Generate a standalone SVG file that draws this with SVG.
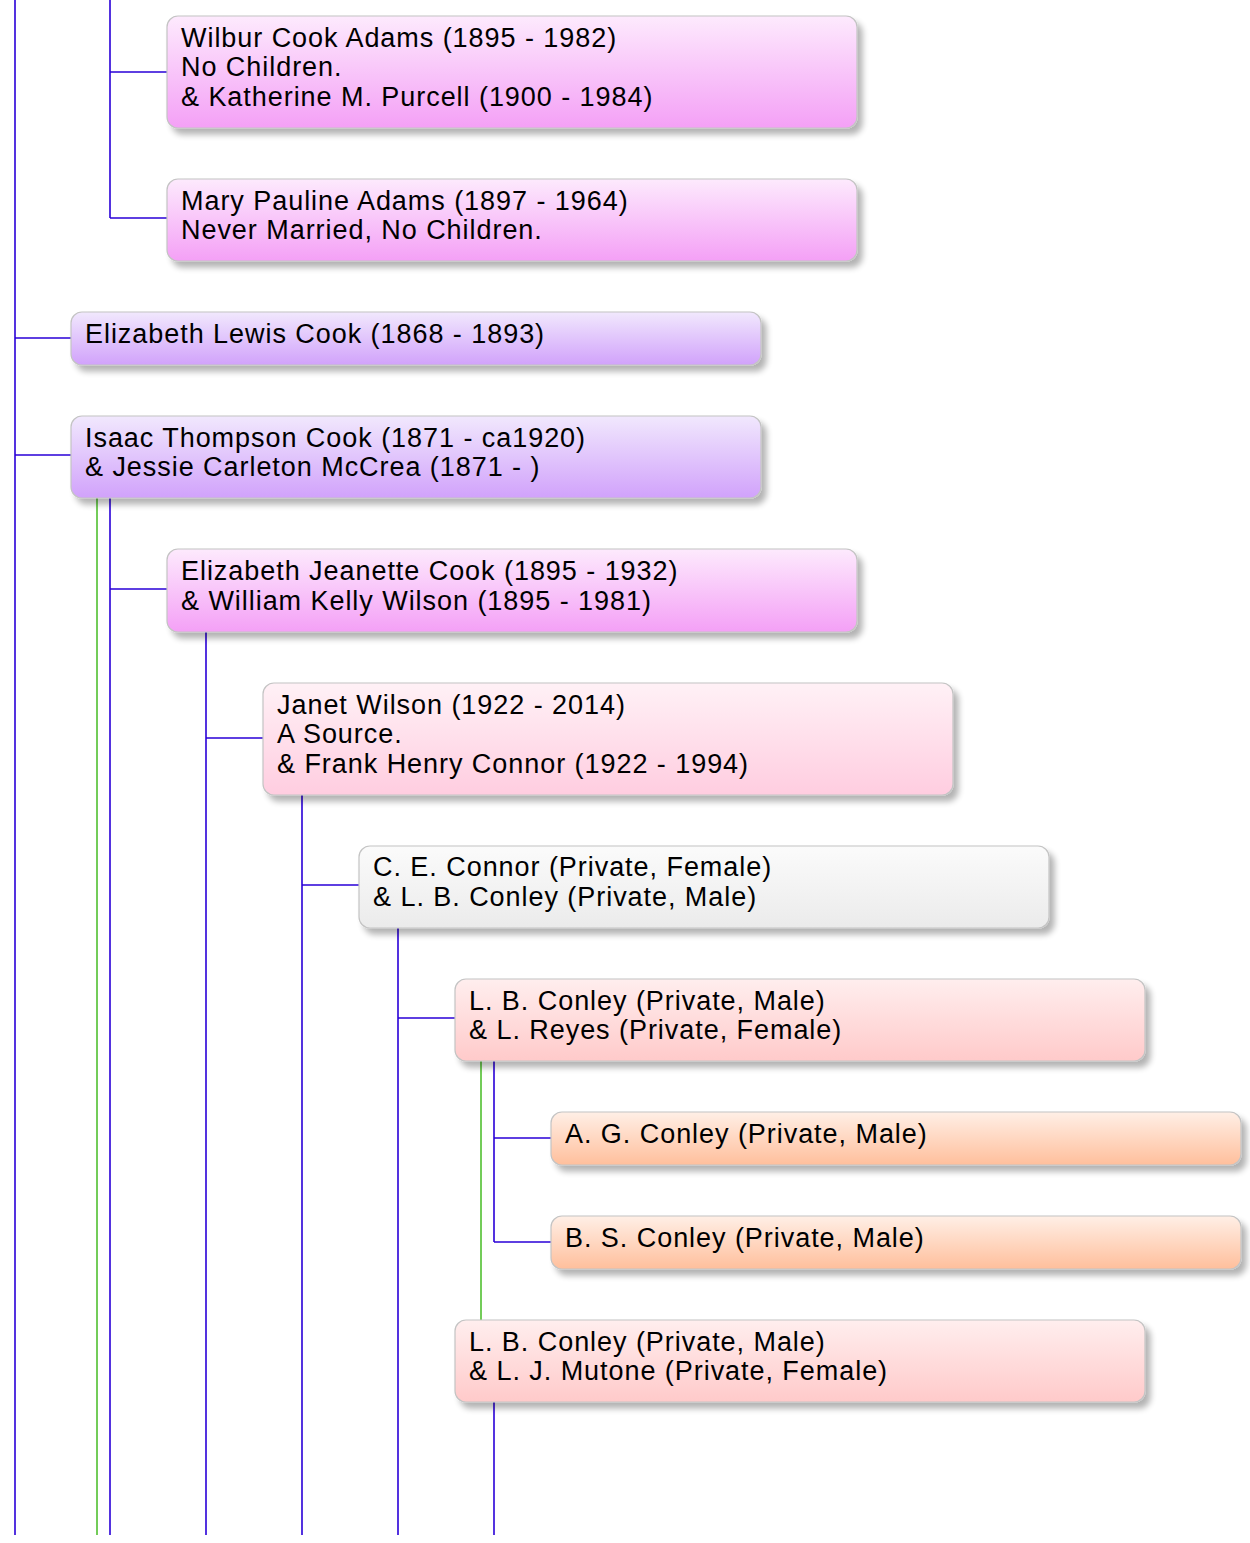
<svg xmlns="http://www.w3.org/2000/svg" width="1250" height="1543" viewBox="0 0 1250 1543">
<defs>
<linearGradient id="gMag" x1="0" y1="0" x2="0" y2="1"><stop offset="0" stop-color="#fdeafd"/><stop offset="1" stop-color="#f4a0f6"/></linearGradient>
<linearGradient id="gPur" x1="0" y1="0" x2="0" y2="1"><stop offset="0" stop-color="#f1e8fd"/><stop offset="1" stop-color="#d1a2fb"/></linearGradient>
<linearGradient id="gPink" x1="0" y1="0" x2="0" y2="1"><stop offset="0" stop-color="#fff1f6"/><stop offset="1" stop-color="#ffcde0"/></linearGradient>
<linearGradient id="gGrey" x1="0" y1="0" x2="0" y2="1"><stop offset="0" stop-color="#fbfbfb"/><stop offset="1" stop-color="#ebebeb"/></linearGradient>
<linearGradient id="gRed" x1="0" y1="0" x2="0" y2="1"><stop offset="0" stop-color="#ffeeee"/><stop offset="1" stop-color="#ffcaca"/></linearGradient>
<linearGradient id="gOr" x1="0" y1="0" x2="0" y2="1"><stop offset="0" stop-color="#ffefe6"/><stop offset="1" stop-color="#ffbf9c"/></linearGradient>
<filter id="sh" x="-5%" y="-20%" width="115%" height="160%"><feGaussianBlur in="SourceAlpha" stdDeviation="3"/><feOffset dx="5" dy="6"/><feComponentTransfer><feFuncA type="linear" slope="0.3"/></feComponentTransfer><feMerge><feMergeNode/><feMergeNode in="SourceGraphic"/></feMerge></filter>
</defs>
<style>
.box{stroke:#c4c4c4;stroke-width:1.2;filter:url(#sh)}
.t{font-family:"Liberation Sans",Arial,sans-serif;font-size:27px;letter-spacing:0.95px;fill:#000}
.b{stroke:#2a00d8;stroke-width:1.6;fill:none}
.g{stroke:#44bb22;stroke-width:1.5;fill:none}
</style>
<rect width="1250" height="1543" fill="#fff"/>
<g id="connectors">
<path class="b" d="M15 0V1535M15 338H71M15 455H71"/>
<path class="b" d="M110 0V218M110 72H167M110 218H167"/>
<path class="g" d="M97 498V1535"/>
<path class="b" d="M110 498V1535M110 589H167"/>
<path class="b" d="M206 632V1535M206 738H263"/>
<path class="b" d="M302 795V1535M302 885H359"/>
<path class="b" d="M398 928V1535M398 1018H455"/>
<path class="g" d="M481 1061V1320"/>
<path class="b" d="M494 1061V1242M494 1138H551M494 1242H551"/>
<path class="b" d="M494 1402V1535"/>
</g>
<g id="n-wilbur"><rect class="box" x="167" y="16" width="690" height="112" rx="11" fill="url(#gMag)"/><text class="t" x="181" y="47">Wilbur Cook Adams (1895 - 1982)</text><text class="t" x="181" y="76">No Children.</text><text class="t" x="181" y="106">&amp; Katherine M. Purcell (1900 - 1984)</text></g>
<g id="n-mary"><rect class="box" x="167" y="179" width="690" height="82" rx="11" fill="url(#gMag)"/><text class="t" x="181" y="210">Mary Pauline Adams (1897 - 1964)</text><text class="t" x="181" y="239">Never Married, No Children.</text></g>
<g id="n-elizabethlewis"><rect class="box" x="71" y="312" width="690" height="53" rx="11" fill="url(#gPur)"/><text class="t" x="85" y="343">Elizabeth Lewis Cook (1868 - 1893)</text></g>
<g id="n-isaac"><rect class="box" x="71" y="416" width="690" height="82" rx="11" fill="url(#gPur)"/><text class="t" x="85" y="447">Isaac Thompson Cook (1871 - ca1920)</text><text class="t" x="85" y="476">&amp; Jessie Carleton McCrea (1871 - )</text></g>
<g id="n-elizabethjeanette"><rect class="box" x="167" y="549" width="690" height="83" rx="11" fill="url(#gMag)"/><text class="t" x="181" y="580">Elizabeth Jeanette Cook (1895 - 1932)</text><text class="t" x="181" y="610">&amp; William Kelly Wilson (1895 - 1981)</text></g>
<g id="n-janet"><rect class="box" x="263" y="683" width="690" height="112" rx="11" fill="url(#gPink)"/><text class="t" x="277" y="714">Janet Wilson (1922 - 2014)</text><text class="t" x="277" y="743">A Source.</text><text class="t" x="277" y="773">&amp; Frank Henry Connor (1922 - 1994)</text></g>
<g id="n-ceconnor"><rect class="box" x="359" y="846" width="690" height="82" rx="11" fill="url(#gGrey)"/><text class="t" x="373" y="876">C. E. Connor (Private, Female)</text><text class="t" x="373" y="906">&amp; L. B. Conley (Private, Male)</text></g>
<g id="n-lbconley1"><rect class="box" x="455" y="979" width="690" height="82" rx="11" fill="url(#gRed)"/><text class="t" x="469" y="1010">L. B. Conley (Private, Male)</text><text class="t" x="469" y="1039">&amp; L. Reyes (Private, Female)</text></g>
<g id="n-agconley"><rect class="box" x="551" y="1112" width="690" height="53" rx="11" fill="url(#gOr)"/><text class="t" x="565" y="1143">A. G. Conley (Private, Male)</text></g>
<g id="n-bsconley"><rect class="box" x="551" y="1216" width="690" height="53" rx="11" fill="url(#gOr)"/><text class="t" x="565" y="1247">B. S. Conley (Private, Male)</text></g>
<g id="n-lbconley2"><rect class="box" x="455" y="1320" width="690" height="82" rx="11" fill="url(#gRed)"/><text class="t" x="469" y="1351">L. B. Conley (Private, Male)</text><text class="t" x="469" y="1380">&amp; L. J. Mutone (Private, Female)</text></g>
</svg>
